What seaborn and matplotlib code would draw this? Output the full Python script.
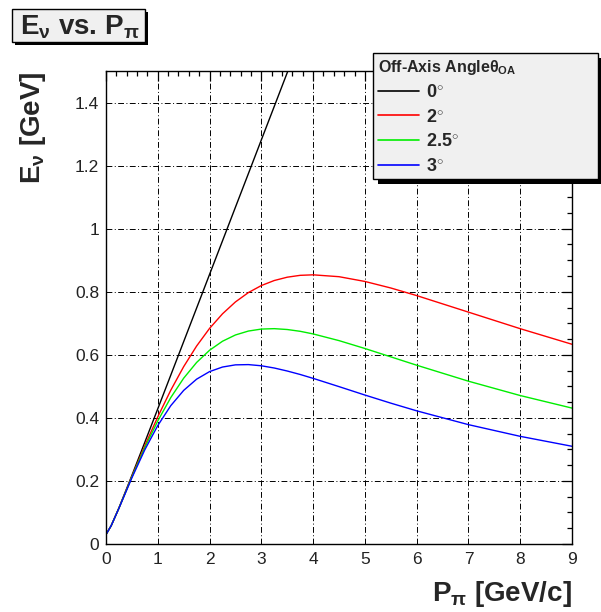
import numpy as np
import pandas as pd
import matplotlib
matplotlib.use("Agg")
import matplotlib.pyplot as plt
from matplotlib.patches import Rectangle
from matplotlib.ticker import MultipleLocator
import seaborn as sns

# ---- data ----
p_pi = [0, 0.1, 0.25, 0.5, 0.75, 1.0, 1.25, 1.5, 1.75, 2.0, 2.25, 2.5, 2.75,
        3.0, 3.25, 3.5, 3.75, 4.0, 4.5, 5.0, 5.5, 6.0, 7.0, 8.0, 9.0]
e_0deg = [0.030, 0.058, 0.1145, 0.2175, 0.3228, 0.4287, 0.5351, 0.6417, 0.7482,
          0.8549, 0.9614, 1.0681, 1.1746, 1.2814, 1.3879, 1.4946, 1.6016, np.nan,
          np.nan, np.nan, np.nan, np.nan, np.nan, np.nan, np.nan]
e_2deg = [0.030, 0.058, 0.1140, 0.2140, 0.3117, 0.4033, 0.4874, 0.5624, 0.6278,
          0.6837, 0.7300, 0.7677, 0.7973, 0.8196, 0.8356, 0.8461, 0.8520, 0.8536,
          0.8477, 0.8326, 0.8119, 0.7878, 0.7353, 0.6828, 0.6334]
e_25deg = [0.030, 0.058, 0.1137, 0.2122, 0.3059, 0.3903, 0.4641, 0.5258, 0.5757,
           0.6144, 0.6430, 0.6629, 0.6753, 0.6816, 0.6829, 0.6802, 0.6745, 0.6662,
           0.6450, 0.6200, 0.5935, 0.5670, 0.5163, 0.4708, 0.4310]
e_3deg = [0.030, 0.058, 0.1134, 0.2099, 0.2990, 0.3756, 0.4385, 0.4871, 0.5227,
          0.5467, 0.5612, 0.5681, 0.5689, 0.5652, 0.5581, 0.5486, 0.5376, 0.5253,
          0.4991, 0.4724, 0.4467, 0.4223, 0.3785, 0.3414, 0.3099]
angle_labels = ["0", "2", "2.5", "3"]
colors = ["#000000", "#ff0000", "#00ee00", "#0000ff"]
x_ticks = [0, 1, 2, 3, 4, 5, 6, 7, 8, 9]
y_ticks = [0, 0.2, 0.4, 0.6, 0.8, 1.0, 1.2, 1.4]
y_tick_labels = ["0", "0.2", "0.4", "0.6", "0.8", "1", "1.2", "1.4"]

frames = []
for lab, vals in zip(angle_labels, [e_0deg, e_2deg, e_25deg, e_3deg]):
    frames.append(pd.DataFrame({"p": p_pi, "E": vals, "angle": lab + r"$^{\circ}$"}))
df = pd.concat(frames, ignore_index=True).dropna()

sns.set_theme(style="white")
plt.rcParams["font.family"] = ["Liberation Sans", "DejaVu Sans"]
plt.rcParams["mathtext.fontset"] = "custom"
plt.rcParams["mathtext.rm"] = "Liberation Sans"
plt.rcParams["mathtext.it"] = "Liberation Sans:italic"
plt.rcParams["mathtext.bf"] = "Liberation Sans:bold"

W, H = 601, 612
fig = plt.figure(figsize=(W / 100, H / 100), dpi=100)
fig.patch.set_facecolor("white")
L, R, B, T = 106, 572, 544, 71
ax = fig.add_axes([L / W, 1 - B / H, (R - L) / W, (B - T) / H])
ax.set_facecolor("white")

sns.lineplot(data=df, x="p", y="E", hue="angle", palette=colors, ax=ax,
             estimator=None, sort=False, linewidth=1.0, legend=True)
handles, labels = ax.get_legend_handles_labels()
ax.get_legend().remove()

ax.set_xlim(0, 9)
ax.set_ylim(0, 1.5)
ax.set_xticks(x_ticks)
ax.set_xticklabels([str(v) for v in x_ticks])
ax.set_yticks(y_ticks)
ax.set_yticklabels(y_tick_labels)
ax.xaxis.set_minor_locator(MultipleLocator(0.2))
ax.yaxis.set_minor_locator(MultipleLocator(0.05))
ax.tick_params(which="both", direction="in", top=True, right=True,
               color="black", width=0.9, labelsize=12.5, labelcolor="#222222")
ax.tick_params(which="major", length=7)
ax.tick_params(which="minor", length=3.8)
ax.tick_params(axis="x", pad=6)
ax.tick_params(axis="y", pad=5)
for s in ax.spines.values():
    s.set_color("black")
    s.set_linewidth(1.0)
ax.grid(True, which="major", color="black", linewidth=0.7,
        linestyle=(0, (6, 2.5, 1, 2.5)))
ax.set_axisbelow(True)

ax.set_xlabel(r"P$_{\mathbf{\pi}}$ [GeV/c]", fontsize=20, fontweight="bold")
ax.set_ylabel(r"E$_{\mathbf{\nu}}$ [GeV]", fontsize=20, fontweight="bold")
ax.xaxis.set_label_coords(1.0, -0.075)
ax.xaxis.label.set_horizontalalignment("right")
ax.yaxis.set_label_coords(-0.125, 1.0)
ax.yaxis.label.set_horizontalalignment("right")

# legend (figure level so its shadow can sit beneath it)
leg = fig.legend(handles, labels,
                 title=r"Off-Axis Angle$\mathbf{\theta}_{\mathbf{OA}}$",
                 loc="upper left",
                 bbox_to_anchor=(373 / W, 1 - 53 / H, 225 / W, 0.0),
                 mode="expand", frameon=True, fancybox=False,
                 handlelength=2.3, handletextpad=0.4, labelspacing=0.42,
                 borderpad=0.25, borderaxespad=0, alignment="left",
                 prop={"weight": "bold", "size": 13},
                 title_fontproperties={"weight": "bold", "size": 11.5})
leg.get_frame().set_facecolor("#f0f0f0")
leg.get_frame().set_edgecolor("black")
leg.get_frame().set_linewidth(1.0)
leg.get_frame().set_alpha(1.0)
for lh in leg.get_lines():
    lh.set_linewidth(1.2)
leg.set_zorder(10)

# title
fig.text(20 / W, 1 - 27 / H, r"E$_{\mathbf{\nu}}$ vs. P$_{\mathbf{\pi}}$",
         fontsize=20, fontweight="bold", ha="left", va="center", zorder=10)

fig.canvas.draw()
lb = leg.get_window_extent()
fig.patches.append(Rectangle((lb.x0 + 5, lb.y0 - 5), lb.width, lb.height,
                             transform=None, facecolor="black", edgecolor="none",
                             zorder=5, figure=fig))
tx0, ty0, tw, th = 12, H - 42, 133, 33
fig.patches.append(Rectangle((tx0 + 3, ty0 - 3), tw, th, transform=None,
                             facecolor="black", edgecolor="none", zorder=4, figure=fig))
fig.patches.append(Rectangle((tx0, ty0), tw, th, transform=None,
                             facecolor="#f0f0f0", edgecolor="black", linewidth=1.0,
                             zorder=5, figure=fig))

fig.savefig("out.png", dpi=100)
